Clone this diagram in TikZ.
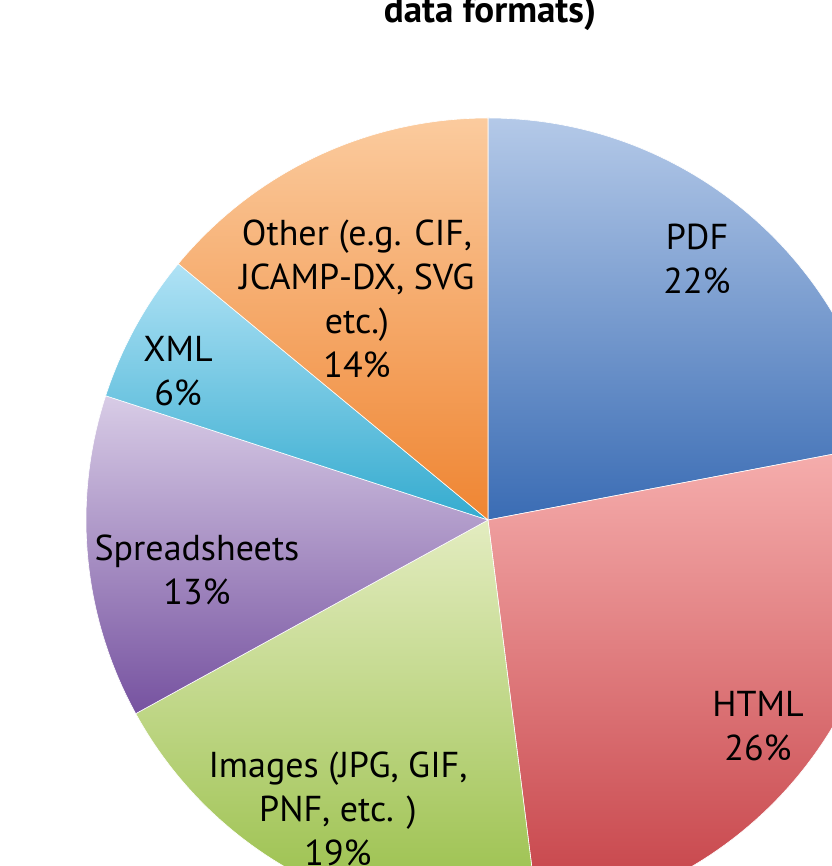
\documentclass[tikz,border=0pt]{standalone}
\usepackage{fontspec}
\setmainfont{PT Sans}

\definecolor{pdftop}{HTML}{B4C9E8}
\definecolor{pdfbot}{HTML}{3A6CB4}
\definecolor{htmltop}{HTML}{F6AFAE}
\definecolor{htmlbot}{HTML}{C43E44}
\definecolor{imgtop}{HTML}{E3ECC0}
\definecolor{imgbot}{HTML}{93BC40}
\definecolor{sprtop}{HTML}{D8CCE6}
\definecolor{sprbot}{HTML}{7652A0}
\definecolor{xmltop}{HTML}{B0E2F5}
\definecolor{xmlbot}{HTML}{34ABCF}
\definecolor{othtop}{HTML}{FBCB9E}
\definecolor{othbot}{HTML}{EF8532}

\begin{document}
\begin{tikzpicture}[
		x=1pt, y=1pt,
		slicelabel/.style={font=\fontsize{36}{44}\selectfont, align=center, inner sep=0pt},
		charttitle/.style={font=\fontsize{37}{44}\selectfont\bfseries, anchor=base},
		slice/.style={draw=white, line width=0.6pt, line join=round}
	]

	% Page frame
	\useasboundingbox (-488,-346) rectangle (343,520);

	% Pie slices, clockwise from the top
	\foreach \a/\b/\ctop/\cbot in {
			90/10.8/pdftop/pdfbot,
			10.8/-82.8/htmltop/htmlbot,
			-82.8/-151.2/imgtop/imgbot,
			-151.2/-198/sprtop/sprbot,
			-198/-219.6/xmltop/xmlbot,
			-219.6/-270/othtop/othbot} {
			\shade[slice, top color=\ctop, bottom color=\cbot]
				(0,0) -- (\a:402pt) arc[start angle=\a, end angle=\b, radius=402pt] -- cycle;
		}

	% Slice labels
	\node[slicelabel] (pdf) at (209,261) {PDF\\22\%};
	\node[slicelabel] (html) at (270,-206) {HTML\\26\%};
	\node[slicelabel] (images) at (-150,-289) {Images (JPG, GIF,\\PNF, etc. )\\19\%};
	\node[slicelabel] (sheets) at (-291,-50) {Spreadsheets\\13\%};
	\node[slicelabel] (xml) at (-310,149) {XML\\6\%};
	\node[slicelabel] (other) at (-131,221) {Other (e.g. CIF,\\JCAMP-DX, SVG\\etc.)\\14\%};

	% Title (cut off by the page top)
	\node[charttitle] (title) at (2,497) {data formats)};

\end{tikzpicture}
\end{document}
